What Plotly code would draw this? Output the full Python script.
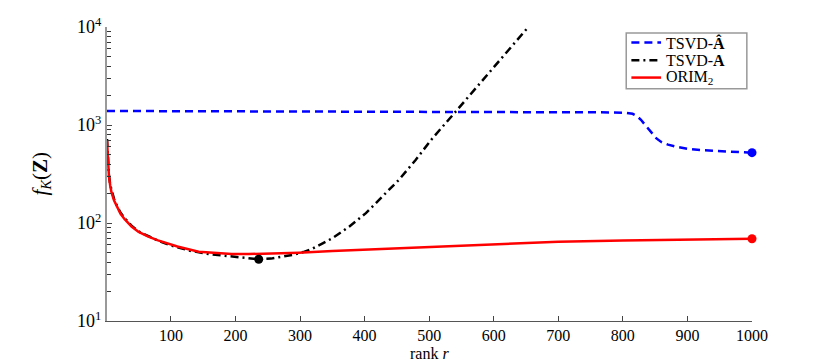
import plotly.graph_objects as go

# TSVD-A-hat (blue dashed)
blue_x = [1, 100, 200, 300, 400, 500, 600, 700, 780, 805, 815, 822, 828, 834, 840, 846, 852, 860, 870, 885,
          900, 920, 950, 975, 1000]
blue_y = [1390, 1387, 1384, 1380, 1376, 1372, 1365, 1355, 1345, 1330, 1300, 1230, 1130, 1010, 900, 800, 730, 668, 630, 595,
          572, 554, 540, 530, 522]

# TSVD-A (black dash-dot)
black_x = [1, 2, 3, 4, 6, 8, 12, 16, 22, 28, 39, 50, 65, 80, 100, 130, 160, 194, 215, 236, 255, 272, 290, 305, 320,
           335, 350, 376, 402, 427, 453, 479, 505, 541, 583, 609, 647, 660]
black_y = [720, 480, 375, 310, 245, 215, 175, 152, 127, 113, 94, 82, 73, 66, 59, 52, 48, 45.3, 43.8, 42.7, 43.3, 45, 47.5, 50.5, 55,
           62, 70, 91.6, 126, 185, 275, 440, 731, 1368, 2880, 4570, 8900, 11200]

# ORIM_2 (red solid)
red_x = [1, 2, 3, 4, 6, 8, 12, 16, 22, 28, 39, 50, 65, 80, 91, 110, 143, 170, 194, 220, 246, 298, 350, 400,
         500, 600, 700, 800, 900, 1000]
red_y = [700, 460, 360, 300, 240, 205, 170, 148, 124, 110, 92, 81, 72.5, 66.5, 63, 57.5, 51, 49.3, 48.4, 48.2, 48.5, 49.8, 51.7, 53.4,
         57, 61, 64.5, 66.3, 67.7, 69]

# highlighted points
mark_x = [1000, 236, 1000]
mark_y = [522, 42.7, 69]
mark_c = ["#0000ff", "#000000", "#ff0000"]

# y axis ticks
y_major = [10, 100, 1000, 10000]
y_labels = ["10<sup>1</sup>", "10<sup>2</sup>", "10<sup>3</sup>", "10<sup>4</sup>"]
y_minor = [m * d for d in [10, 100, 1000] for m in range(2, 10)]

# legend entries
leg_names = ["TSVD-<b>Â</b>", "TSVD-<b>A</b>", "ORIM<sub>2</sub>"]
leg_colors = ["#0000ff", "#000000", "#ff0000"]
leg_dash = ["8px,5px", "8px,4px,2px,4px", "solid"]

serif = "Liberation Serif"

fig = go.Figure()
fig.add_trace(go.Scatter(x=blue_x, y=blue_y, mode="lines", name="TSVD-Â", showlegend=False,
                         line=dict(color=leg_colors[0], width=2.5, dash=leg_dash[0])))
fig.add_trace(go.Scatter(x=black_x, y=black_y, mode="lines", name="TSVD-A", showlegend=False,
                         line=dict(color=leg_colors[1], width=2.5, dash=leg_dash[1])))
fig.add_trace(go.Scatter(x=red_x, y=red_y, mode="lines", name="ORIM2", showlegend=False,
                         line=dict(color=leg_colors[2], width=2.5)))
for i in range(3):
    fig.add_trace(go.Scatter(x=[mark_x[i]], y=[mark_y[i]], mode="markers", showlegend=False,
                             marker=dict(color=mark_c[i], size=9), cliponaxis=False))

# hand-drawn legend box (plotly's own legend rows are too tall)
shapes = [dict(type="rect", xref="paper", yref="paper", x0=0.805, x1=0.992, y0=0.79, y1=0.98,
               line=dict(color="#999999", width=1.5), fillcolor="white", layer="above")]
annotations = []
leg_y = [0.947, 0.887, 0.828]
for i in range(3):
    shapes.append(dict(type="line", xref="paper", yref="paper", x0=0.813, x1=0.859, y0=leg_y[i], y1=leg_y[i],
                       line=dict(color=leg_colors[i], width=2.5, dash=leg_dash[i]), layer="above"))
    annotations.append(dict(text=leg_names[i], xref="paper", yref="paper", x=0.864, y=leg_y[i],
                            xanchor="left", yanchor="middle", showarrow=False,
                            font=dict(family=serif, size=16)))

annotations.append(dict(text="rank <i>r</i>", xref="paper", yref="paper", x=0.5, y=-0.109,
                        xanchor="center", yanchor="middle", showarrow=False,
                        font=dict(family=serif, size=16)))
annotations.append(dict(text="<i>f</i><sub><i>K</i></sub>(<b>Z</b>)", xref="paper", yref="paper",
                        x=-0.103, y=0.5, xanchor="center", yanchor="middle", textangle=-90,
                        showarrow=False, font=dict(family=serif, size=21)))

# the page body adds an 8px margin, so the figure is a bit smaller than the window
fig.update_layout(
    width=822, height=354,
    margin=dict(l=99, r=78, t=19, b=41),
    paper_bgcolor="white", plot_bgcolor="white",
    font=dict(family=serif, size=17, color="black"),
    shapes=shapes, annotations=annotations,
)
fig.update_xaxes(
    range=[1, 1000], tickvals=[100, 200, 300, 400, 500, 600, 700, 800, 900, 1000],
    ticks="inside", ticklen=5, tickcolor="#444444", automargin=False,
    showline=True, linecolor="#555555", linewidth=1, showgrid=False, zeroline=False,
    tickfont=dict(family=serif, size=16),
)
fig.update_yaxes(
    type="log", range=[1, 4], automargin=False,
    tickvals=y_major, ticktext=y_labels,
    ticks="inside", ticklen=5, tickcolor="#444444",
    minor=dict(tickvals=y_minor, ticks="inside", ticklen=4, tickcolor="#333333", showgrid=False),
    showline=True, linecolor="#999999", linewidth=2, showgrid=False, zeroline=False,
    tickfont=dict(family=serif, size=18),
)

fig.write_html("out.html")
